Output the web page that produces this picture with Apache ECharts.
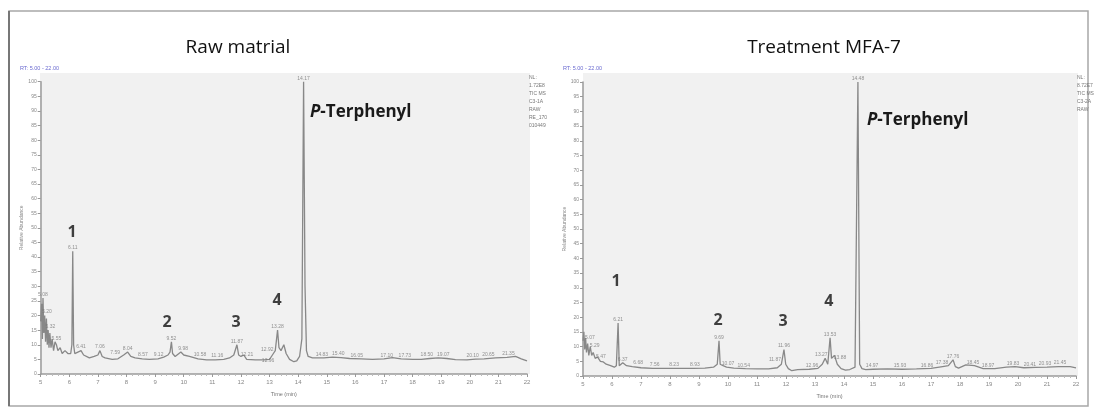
<!DOCTYPE html>
<html>
<head>
<meta charset="utf-8">
<script src="https://cdn.jsdelivr.net/npm/echarts@6/dist/echarts.min.js"></script>
<style>html,body{margin:0;padding:0;background:#fff}#c{width:1094px;height:412px}</style>
</head>
<body>
<div id="c"></div>
<script>
// ---- data ----
const panelTitles = ['Raw matrial', 'Treatment MFA-7'];
const xTickMin = 5, xTickMax = 22, xTickStep = 1;
const yTickMin = 0, yTickMax = 100, yTickStep = 5;

// [time (min), relative abundance]
const rawTrace = [
  [5.00,18],[5.03,24],[5.06,12],[5.08,26],[5.11,14],[5.14,20],[5.17,11],[5.20,19],[5.23,10],[5.26,15],
  [5.29,9],[5.32,14],[5.36,9],[5.40,12],[5.45,8],[5.50,11],[5.55,10],[5.60,8],[5.68,9],[5.75,7],
  [5.85,8],[5.95,7],[6.05,7],[6.09,10],[6.12,42],[6.15,10],[6.19,7],[6.30,7.5],[6.41,8],[6.50,6.5],
  [6.70,5.5],[6.87,6],[7.00,6.5],[7.07,8],[7.15,6],[7.25,5.5],[7.50,5.0],[7.70,5.2],[7.90,6.5],[8.04,7.5],
  [8.15,6],[8.30,5.5],[8.55,5.2],[8.80,5.0],[9.10,5.2],[9.30,5.8],[9.45,6.5],[9.52,7.5],[9.57,11],[9.61,7],
  [9.70,6],[9.90,7.5],[10.00,6.5],[10.20,6],[10.50,5.2],[10.80,4.8],[11.10,4.8],[11.40,5],[11.60,5.5],[11.75,6.5],
  [11.86,10],[11.92,6.5],[12.00,6],[12.10,6.5],[12.20,5],[12.50,4.8],[12.80,4.8],[13.00,5],[13.10,6.5],[13.20,8],
  [13.28,15],[13.33,9],[13.40,8],[13.50,10],[13.58,7],[13.70,5],[13.85,4.2],[13.95,4.5],[14.05,6],[14.13,12],
  [14.19,100],[14.24,30],[14.29,8],[14.35,6],[14.50,5.5],[14.90,5.5],[15.20,5.8],[15.50,5.6],[15.80,5.3],[16.20,5.2],
  [16.60,5.0],[17.00,5.2],[17.30,5.6],[17.60,5.2],[18.00,5.0],[18.30,5.0],[18.60,5.3],[18.90,5.5],[19.20,5.3],[19.50,4.9],
  [19.90,4.8],[20.20,5.1],[20.50,5.2],[20.90,5.5],[21.30,5.7],[21.60,6],[21.80,5.2],[22.00,4.5]
];
const mfaTrace = [
  [5.00,12],[5.03,15],[5.06,9],[5.09,13],[5.12,8],[5.16,11],[5.20,7],[5.25,10],[5.30,7],[5.35,8],
  [5.42,6],[5.50,6.5],[5.60,5],[5.70,4.8],[5.80,4],[5.95,3.5],[6.08,3],[6.15,3.5],[6.21,18],[6.25,3.5],
  [6.37,4.5],[6.50,3.5],[6.70,3.2],[7.00,2.8],[7.40,2.6],[7.80,2.6],[8.30,2.6],[8.80,2.6],[9.20,2.7],[9.50,3],
  [9.63,4],[9.69,12],[9.73,4],[9.83,3.5],[9.95,3],[10.20,2.7],[10.60,2.5],[11.00,2.4],[11.40,2.4],[11.70,2.8],
  [11.84,4],[11.93,9],[11.99,4],[12.08,2.5],[12.20,1.8],[12.40,2.2],[12.80,2.3],[13.10,2.6],[13.25,4],[13.35,6],
  [13.44,4],[13.52,13],[13.57,6],[13.67,7],[13.77,4],[13.90,2.5],[14.05,2],[14.20,2.2],[14.38,3],[14.48,100],
  [14.54,4],[14.62,2.5],[14.75,2.2],[15.00,2.3],[15.50,2.4],[16.00,2.3],[16.50,2.4],[17.00,2.6],[17.40,3.2],[17.60,3.5],
  [17.76,5.5],[17.84,3.2],[17.95,2.7],[18.20,3.8],[18.50,3.5],[18.80,2.5],[19.20,2.5],[19.60,3],[19.90,3.2],[20.20,2.8],
  [20.60,2.9],[21.00,3],[21.40,3.2],[21.80,3.2],[22.00,2.8]
];

// peak retention-time labels [time, abundance, text]
const rawPeakTimes = [
  [5.08,26,'5.08'],[5.22,20,'5.20'],[5.34,15,'5.32'],[5.55,11,'5.55'],[6.12,42,'6.11'],[6.41,8,'6.41'],
  [7.07,8,'7.06'],[7.60,6,'7.59'],[8.04,7.5,'8.04'],[8.57,5.5,'8.57'],[9.12,5.5,'9.12'],[9.57,11,'9.52'],
  [9.98,7.5,'9.98'],[10.57,5.5,'10.58'],[11.17,5.2,'11.16'],[11.86,10,'11.87'],[12.21,5.5,'12.21'],
  [12.92,7,'12.92'],[12.95,3.5,'12.96'],[13.28,15,'13.28'],[14.19,100,'14.17'],
  [14.83,5.5,'14.83'],[15.40,5.8,'15.40'],[16.05,5.2,'16.05'],[17.10,5.2,'17.10'],[17.73,5.2,'17.73'],
  [18.50,5.3,'18.50'],[19.07,5.4,'19.07'],[20.10,5.1,'20.10'],[20.65,5.3,'20.65'],[21.35,5.8,'21.35']
];
const mfaPeakTimes = [
  [5.24,12,'5.07'],[5.40,9,'5.29'],[5.62,5.5,'5.47'],[6.21,18,'6.21'],[6.37,4.5,'6.37'],[6.90,3.2,'6.68'],
  [7.47,2.6,'7.56'],[8.14,2.6,'8.23'],[8.86,2.6,'8.93'],[9.69,12,'9.69'],[10.00,3,'10.07'],[10.54,2.5,'10.54'],
  [11.62,4.5,'11.87'],[11.93,9,'11.96'],[12.90,2.4,'12.96'],[13.22,6,'13.27'],[13.52,13,'13.53'],[13.86,5,'13.88'],
  [14.48,100,'14.48'],[14.97,2.3,'14.97'],[15.93,2.3,'15.93'],[16.86,2.5,'16.86'],[17.38,3.2,'17.38'],
  [17.76,5.5,'17.76'],[18.45,3.5,'18.45'],[18.97,2.5,'18.97'],[19.83,3.1,'19.83'],[20.41,2.8,'20.41'],
  [20.93,3,'20.93'],[21.45,3.2,'21.45']
];

// numbered compound markers [time, abundance, text]
const rawPeakNumbers = [[6.10,48.5,'1'],[9.42,17.8,'2'],[11.83,17.8,'3'],[13.26,25.3,'4']];
const mfaPeakNumbers = [[6.14,32,'1'],[9.66,19,'2'],[11.90,18.4,'3'],[13.48,25.2,'4']];

const rtRangeText = 'RT: 5.00 - 22.00';
const rawInfoLines = ['NL:', '1.72E8', 'TIC MS', 'C3-1A', 'RAW', 'RE_170', '010449'];
const mfaInfoLines = ['NL:', '8.72E7', 'TIC MS', 'C3-2A', 'RAW'];
const yAxisName = 'Relative Abundance';
const xAxisName = 'Time (min)';

// ---- chart ----
const chart = echarts.init(document.getElementById('c'), null, {renderer: 'canvas'});
const grids = [
  {left: 40.7, top: 81.7, width: 486.3, height: 292.3},
  {left: 583, top: 82, width: 493, height: 294}
];

function xAxisCfg(i) {
  return {
    gridIndex: i, type: 'value', min: xTickMin, max: xTickMax, interval: xTickStep,
    name: xAxisName, nameLocation: 'middle', nameGap: 17,
    nameTextStyle: {fontSize: 5.5, color: '#777', fontFamily: 'Arial, Liberation Sans'},
    axisLine: {show: true, onZero: false, lineStyle: {color: '#9a9a9a', width: 1.5}},
    axisTick: {show: true, length: 3, lineStyle: {color: '#999'}},
    minorTick: {show: true, splitNumber: 5, length: 2, lineStyle: {color: '#bbb'}},
    axisLabel: {fontSize: 6, color: '#888', margin: 5, fontFamily: 'Arial, Liberation Sans'},
    splitLine: {show: false}
  };
}
function yAxisCfg(i) {
  return {
    gridIndex: i, type: 'value', min: yTickMin, max: yTickMax, interval: yTickStep,
    name: yAxisName, nameLocation: 'middle', nameGap: 15,
    nameTextStyle: {fontSize: 5, color: '#888', fontFamily: 'Arial, Liberation Sans'},
    axisLine: {show: true, lineStyle: {color: '#9a9a9a', width: 1.5}},
    axisTick: {show: true, length: 3, lineStyle: {color: '#999'}},
    axisLabel: {fontSize: 5, color: '#888', margin: 4, fontFamily: 'Arial, Liberation Sans'},
    splitLine: {show: false}
  };
}
function traceSeries(i, data) {
  return {
    type: 'line', xAxisIndex: i, yAxisIndex: i, data: data, showSymbol: false, smooth: false,
    lineStyle: {color: '#888', width: 1.3}, silent: true, z: 3, animation: false
  };
}
function labelSeries(i, arr, fontSize, color, weight, family) {
  return {
    type: 'scatter', xAxisIndex: i, yAxisIndex: i, symbolSize: 0, silent: true, z: 5, animation: false,
    data: arr.map(d => ({value: [d[0], d[1]], name: d[2]})),
    label: {show: true, position: fontSize > 10 ? 'inside' : 'top', distance: 1,
      formatter: p => p.name, fontSize: fontSize, color: color, fontWeight: weight, fontFamily: family}
  };
}

const titleFont = '"Open Sans", Lato, sans-serif';
function infoText(x, y, lines) {
  return {type: 'text', left: x, top: y, silent: true,
    style: {text: lines.join('\n'), fontSize: 5, lineHeight: 8, fill: '#777', fontFamily: 'Arial'}};
}
function compoundText(x, y) {
  return {type: 'text', left: x, top: y, silent: true,
    style: {text: '{i|P}-Terphenyl', fontSize: 17, fontWeight: 'bold', fill: '#1a1a1a', fontFamily: titleFont,
      rich: {i: {fontStyle: 'italic', fontSize: 17, fontWeight: 'bold', fill: '#1a1a1a', fontFamily: titleFont}}}};
}

chart.setOption({
  animation: false,
  backgroundColor: '#fff',
  grid: grids,
  xAxis: [xAxisCfg(0), xAxisCfg(1)],
  yAxis: [yAxisCfg(0), yAxisCfg(1)],
  title: [
    {text: panelTitles[0], left: 233, top: 33, textAlign: 'center',
      textStyle: {fontSize: 19, fontWeight: 'normal', color: '#111', fontFamily: titleFont}},
    {text: panelTitles[1], left: 819, top: 33, textAlign: 'center',
      textStyle: {fontSize: 19, fontWeight: 'normal', color: '#111', fontFamily: titleFont}}
  ],
  graphic: [
    {type: 'rect', z: -10, silent: true, shape: {x: 9, y: 11, width: 1079, height: 395},
      style: {fill: '#fff', stroke: '#a8a8a8', lineWidth: 1.5}},
    {type: 'line', z: -9, silent: true, shape: {x1: 9, y1: 11, x2: 9, y2: 406},
      style: {stroke: '#777', lineWidth: 2}},
    {type: 'rect', z: -8, silent: true, shape: {x: 40, y: 73, width: 490, height: 301},
      style: {fill: '#f1f1f1'}},
    {type: 'rect', z: -8, silent: true, shape: {x: 583, y: 73, width: 495, height: 303},
      style: {fill: '#f1f1f1'}},
    {type: 'text', left: 20, top: 65, silent: true,
      style: {text: rtRangeText, fontSize: 5.5, fill: '#6a6ad0', fontFamily: 'Arial'}},
    {type: 'text', left: 563, top: 65, silent: true,
      style: {text: rtRangeText, fontSize: 5.5, fill: '#6a6ad0', fontFamily: 'Arial'}},
    infoText(529, 74, rawInfoLines),
    infoText(1077, 74, mfaInfoLines),
    compoundText(310, 104),
    compoundText(867, 112)
  ],
  series: [
    traceSeries(0, rawTrace),
    traceSeries(1, mfaTrace),
    labelSeries(0, rawPeakTimes, 5, '#777', 'normal', 'Arial'),
    labelSeries(1, mfaPeakTimes, 5, '#777', 'normal', 'Arial'),
    labelSeries(0, rawPeakNumbers, 16, '#111', 'bold', titleFont),
    labelSeries(1, mfaPeakNumbers, 16, '#111', 'bold', titleFont)
  ]
});
</script>
</body>
</html>
